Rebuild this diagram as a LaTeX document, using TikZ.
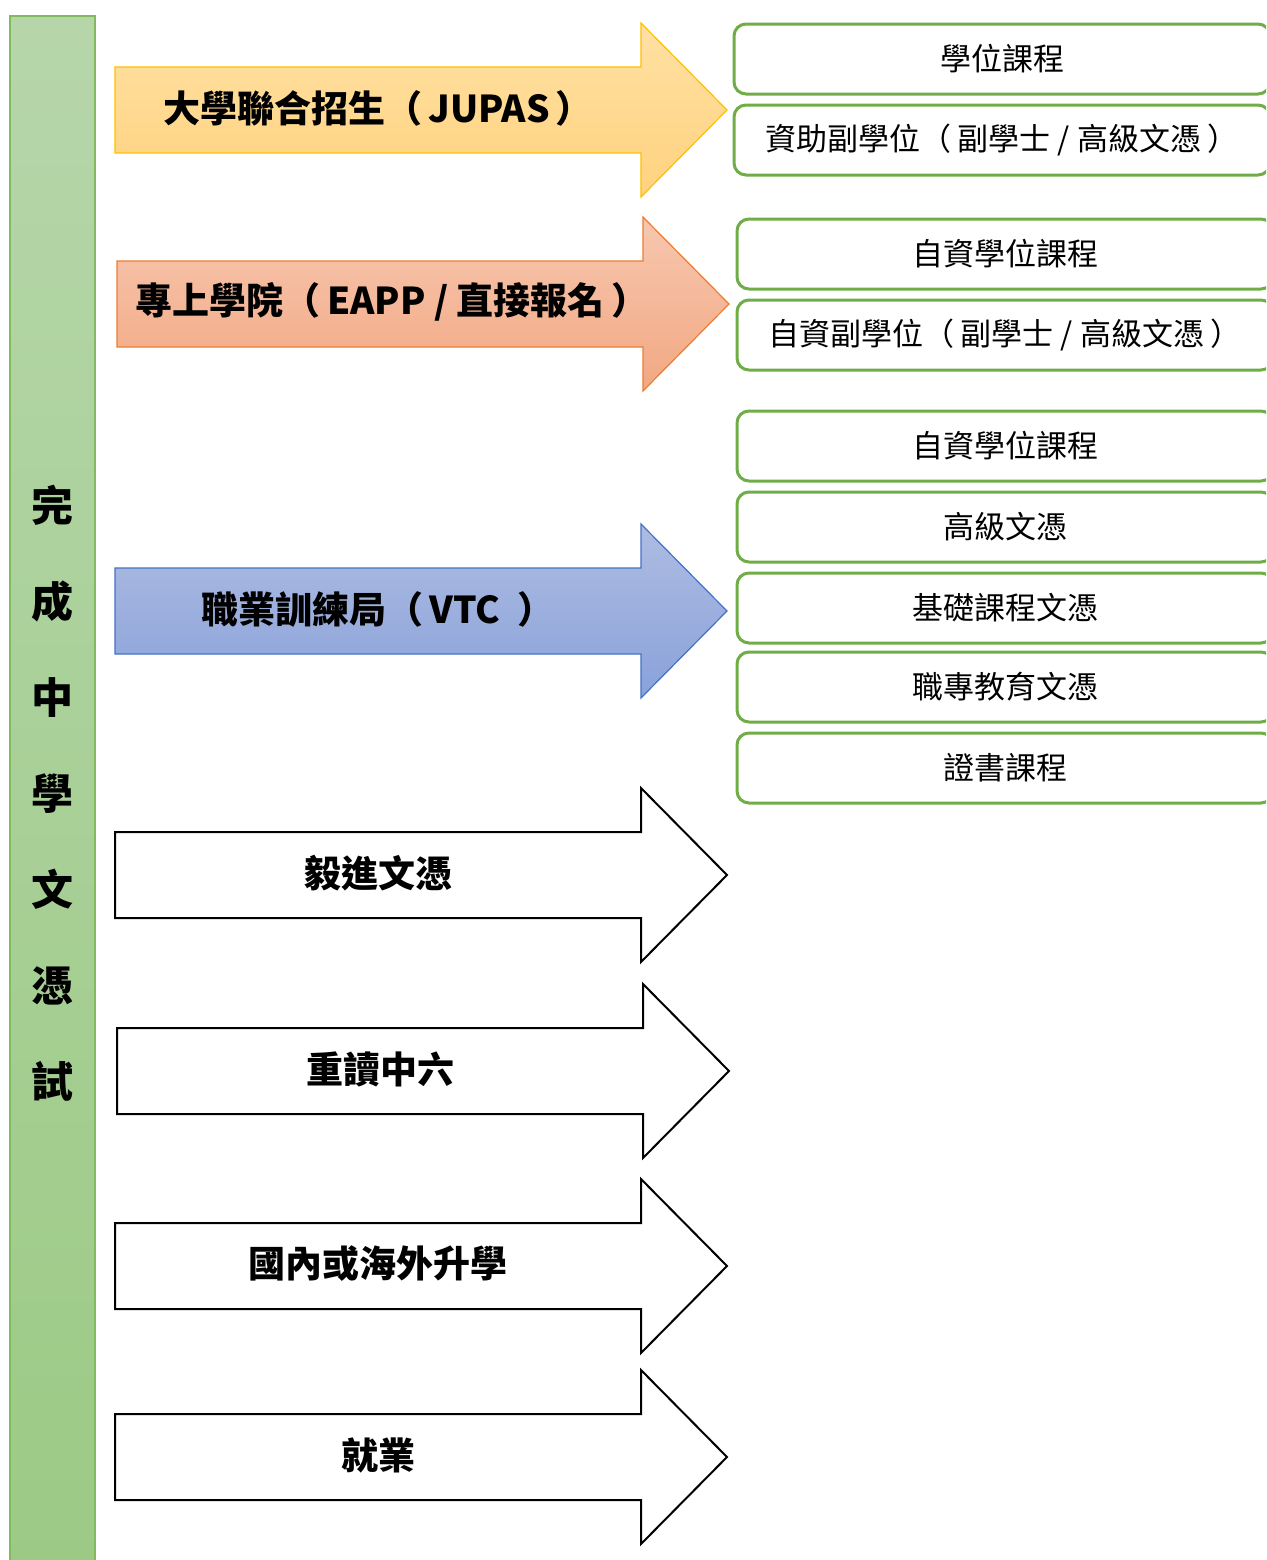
\documentclass[tikz,border=0pt]{standalone}
\usepackage{fontspec}
\setmainfont{Noto Sans CJK TC}
\usetikzlibrary{positioning}
\definecolor{bartop}{HTML}{B6D6AA}
\definecolor{barbottom}{HTML}{9CCA85}
\definecolor{barline}{HTML}{82BA5E}
\definecolor{boxline}{HTML}{70AD47}
\definecolor{jupastop}{HTML}{FFE1A4}
\definecolor{jupasbottom}{HTML}{FFD27E}
\definecolor{jupasline}{HTML}{FFC000}
\definecolor{eapptop}{HTML}{F7C7B0}
\definecolor{eappbottom}{HTML}{F2A882}
\definecolor{eappline}{HTML}{ED7D31}
\definecolor{vtctop}{HTML}{AEBCE2}
\definecolor{vtcbottom}{HTML}{8AA2DA}
\definecolor{vtcline}{HTML}{4472C4}
\tikzset{
  routetext/.style={font=\fontsize{18.5}{22}\selectfont\bfseries},
  course/.style={draw=boxline,line width=1.5pt,rounded corners=6pt,fill=white,outer sep=0pt,
    minimum width=268pt,minimum height=35pt,inner sep=0pt,font=\fontsize{15.5}{18}\selectfont},
  plain/.style={draw=black,line width=1pt,fill=white},
}
\newcommand{\pathway}[5]{%
  \draw[#1] (#3,#4) -- ++(526,0) -- ++(0,-44) -- ++(86,87) -- ++(-86,87) -- ++(0,-44) -- ++(-526,0) -- cycle;
  \node[routetext] (#2) at (#3+263,#4+41) {#5};}
\begin{document}
\begin{tikzpicture}[x=0.5pt,y=-0.5pt]
    \useasboundingbox (0,0) rectangle (1266,1560);
    \clip (0,0) rectangle (1266,1560);
    \fill[white] (0,0) rectangle (1266,1560);
    \draw[barline,line width=0.8pt,top color=bartop,bottom color=barbottom] (10,16) rectangle (95,1570);
    \node[font=\fontsize{21}{48}\selectfont\bfseries,align=center] (dse) at (53,793) {完\\成\\中\\學\\文\\憑\\試};
    \pathway{draw=jupasline,line width=0.6pt,top color=jupastop,bottom color=jupasbottom}{jupas}{115}{67}{大學聯合招生（\,JUPAS\,）}
    \pathway{draw=eappline,line width=0.6pt,top color=eapptop,bottom color=eappbottom}{eapp}{117}{261}{\hspace{12pt}專上學院（\,EAPP / 直接報名\,）}
    \pathway{draw=vtcline,line width=0.6pt,top color=vtctop,bottom color=vtcbottom}{vtc}{115}{568}{職業訓練局（\,VTC\ \ ）}
    \pathway{plain}{yijin}{115}{832}{毅進文憑}
    \pathway{plain}{repeat}{117}{1028}{重讀中六}
    \pathway{plain}{abroad}{115}{1223}{國內或海外升學}
    \pathway{plain}{work}{115}{1414}{就業}
    \node[course,anchor=north west] (deg) at (734,24) {學位課程};
    \node[course,below=5.5pt of deg] (subdeg) {資助副學位（ 副學士 / 高級文憑 ）};
    \node[course,anchor=north west] (sfdeg) at (737,219) {自資學位課程};
    \node[course,below=5.5pt of sfdeg] (sfsub) {自資副學位（ 副學士 / 高級文憑 ）};
    \node[course,anchor=north west] (sfdegb) at (737,411) {自資學位課程};
    \node[course,below=5.5pt of sfdegb] (hd) {高級文憑};
    \node[course,below=5.5pt of hd] (fd) {基礎課程文憑};
    \node[course,below=4.5pt of fd] (vpd) {職專教育文憑};
    \node[course,below=5.5pt of vpd] (cert) {證書課程};
\end{tikzpicture}
\end{document}
